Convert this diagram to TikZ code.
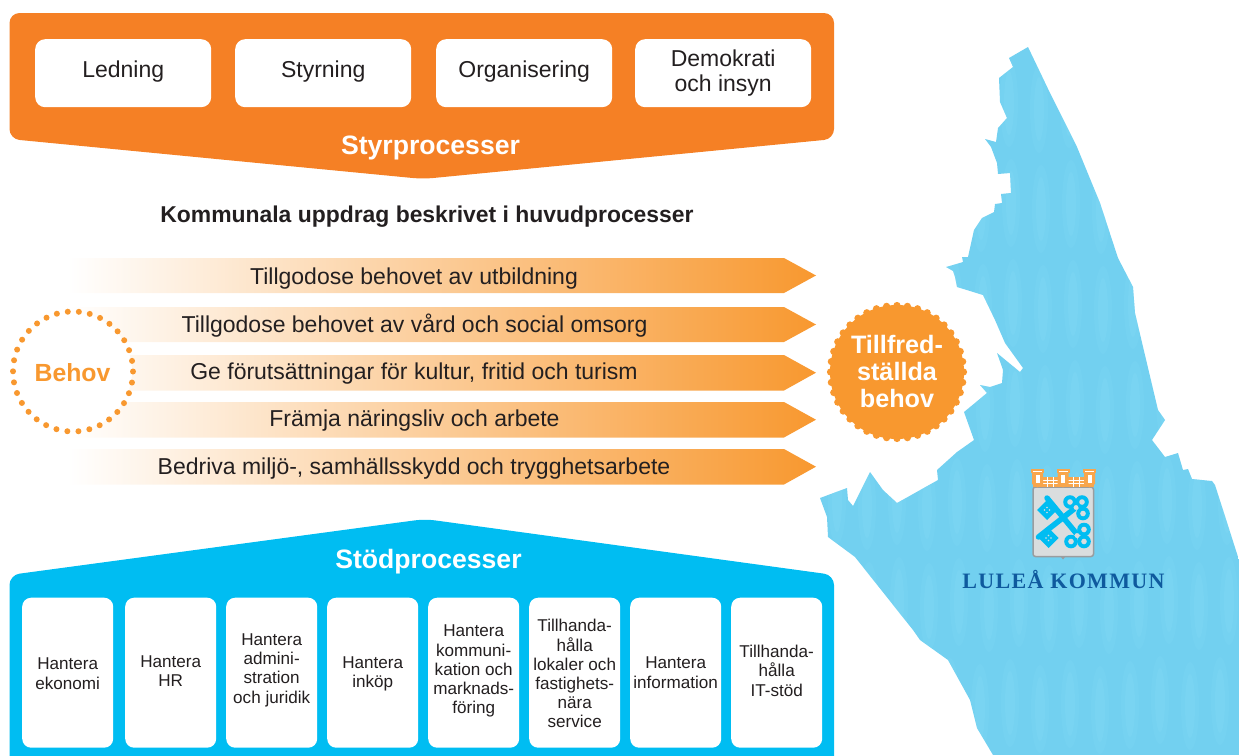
\documentclass[tikz,border=0pt]{standalone}
\usepackage{fontspec}
\setmainfont{Liberation Sans}
\newfontfamily\kommunfont[LetterSpace=6]{Liberation Serif}
\definecolor{styr}{HTML}{F58025}
\definecolor{stod}{HTML}{00BDF2}
\definecolor{pil}{HTML}{F8982F}
\definecolor{karta}{HTML}{72D0F0}
\definecolor{kartaljus}{HTML}{8ADDF7}
\definecolor{textgra}{HTML}{231F20}
\definecolor{kommunbla}{HTML}{0F5A9E}
\definecolor{vapen}{HTML}{DADDDE}
\definecolor{vapenram}{HTML}{9A9D9F}
\definecolor{krona}{HTML}{F8A64C}
\tikzset{
  topbox/.style={fill=white,rounded corners=10pt,inner sep=0pt,minimum width=176pt,minimum height=68pt,anchor=north west},
  toptext/.style={align=center,text=textgra,font=\fontsize{23}{25}\selectfont,inner sep=0pt},
  supbox/.style={fill=white,rounded corners=9pt,inner sep=0pt,minimum width=91pt,minimum height=150pt,anchor=north west},
  suptext/.style={align=center,text=textgra,font=\fontsize{17.1}{19.2}\selectfont,inner sep=0pt},
  arrowtext/.style={text=textgra,font=\fontsize{23}{26}\selectfont,inner sep=0pt,anchor=base},
  paneltitle/.style={text=white,font=\bfseries\fontsize{26.6}{30}\selectfont,inner sep=0pt,anchor=base},
  pilform/.style={left color=white,right color=pil,shading angle=90},
  keycol/.style={fill=stod,draw=none},
}
\begin{document}
\begin{tikzpicture}[x=1pt,y=-1pt]
\useasboundingbox (0,0) rectangle (1239,755);
% Map
\begin{scope}
\path[clip] (1028,47) -- (1009,58) -- (1013,67) -- (999,78) -- (1000,102) -- (1007,118) -- (998,128) -- (996,142)
 -- (985,139) -- (991,147) -- (997,163) -- (998,174) -- (1010,173) -- (1011,193) -- (1001,194) -- (1002,203)
 -- (995,204) -- (994,212) -- (982,218) -- (974,230) -- (968,257) -- (962,257) -- (963,262) -- (953,265) -- (946,267)
 -- (953,271) -- (955,277) -- (957,287) -- (983,295) -- (995,320) -- (1005,343) -- (1023,368) -- (1020,372)
 -- (997,353) -- (1003,370) -- (1002,383) -- (990,387) -- (980,385) -- (987,393) -- (964,412) -- (974,440)
 -- (957,452) -- (937,470) -- (938,480) -- (897,503) -- (883,490) -- (870,472) -- (853,506) -- (848,500)
 -- (847,488) -- (820,498) -- (827,517) -- (828,537) -- (855,557) -- (913,630) -- (920,640) -- (948,660)
 -- (970,700) -- (977,728) -- (993,755) -- (1239,755) -- (1239,560) -- (1215,485) -- (1212,481) -- (1192,479)
 -- (1188,469) -- (1183,470) -- (1178,453) -- (1165,457) -- (1152,440) -- (1165,420) -- (1158,410) -- (1135,313)
 -- (1133,287) -- (1118,258) -- (1100,203) -- (1077,147) -- (1050,93) -- cycle;
\fill[karta] (800,30) rectangle (1239,755);
\foreach \rowy in {0,1,2,3,4,5,6}{
  \foreach \colx in {0,...,14}{
    \pgfmathsetmacro{\px}{820+\colx*30+mod(\rowy*13,11)}
    \pgfmathsetmacro{\py}{60+\rowy*100+mod(\colx*17,11)}
    \fill[kartaljus,opacity=.16] (\px+9,\py+40) ellipse [x radius=9,y radius=44];
    \fill[kartaljus,opacity=.2] (\px+9,\py+40) ellipse [x radius=5,y radius=32];
  }
}
\end{scope}
% Orange panel
\fill[styr,rounded corners=10pt] (9.5,13) -- (834,13) -- (834,139) -- (423,179) -- (9.5,139) -- cycle;
\node[topbox,label={[toptext,yshift=2pt]center:Ledning}] (a1) at (35,39) {};
\node[topbox,label={[toptext,yshift=2pt]center:Styrning}] (a2) at (235,39) {};
\node[topbox,label={[toptext,yshift=2pt]center:Organisering}] (a3) at (436,39) {};
\node[topbox,label={[toptext]center:{Demokrati\\och insyn}}] (a4) at (635,39) {};
\node[paneltitle] (styrt) at (430.5,154) {Styrprocesser};
\node[text=textgra,font=\bfseries\fontsize{22.9}{26}\selectfont,inner sep=0pt,anchor=base] (rubrik) at (427,222) {Kommunala uppdrag beskrivet i huvudprocesser};
% Arrows
\shade[pilform] (68,258) -- (784,258) -- (816,275.5) -- (784,293) -- (68,293) -- cycle;
\shade[pilform] (68,307) -- (784,307) -- (816,324.5) -- (784,342) -- (68,342) -- cycle;
\shade[pilform] (68,355) -- (784,355) -- (816,372.7) -- (784,390.5) -- (68,390.5) -- cycle;
\shade[pilform] (68,402) -- (784,402) -- (816,419.7) -- (784,437.5) -- (68,437.5) -- cycle;
\shade[pilform] (68,449) -- (784,449) -- (816,466.7) -- (784,484.5) -- (68,484.5) -- cycle;
\node[arrowtext] (p1) at (414,284) {Tillgodose behovet av utbildning};
\node[arrowtext] (p2) at (414.5,332) {Tillgodose behovet av vård och social omsorg};
\node[arrowtext] (p3) at (414,379) {Ge förutsättningar för kultur, fritid och turism};
\node[arrowtext] (p4) at (414.5,426) {Främja näringsliv och arbete};
\node[arrowtext] (p5) at (414,474) {Bedriva miljö-, samhällsskydd och trygghetsarbete};
% Behov
\fill[white] (73,371.5) circle (59);
\foreach \a in {0,10.6,...,359}{
  \fill[pil] (73,371.5) ++(\a:60) circle (3);
}
\node[text=pil,font=\bfseries\fontsize{24.8}{26}\selectfont,inner sep=0pt,anchor=base] (behov) at (72.5,381) {Behov};
% Seal
\fill[pil] (897,372) circle (67);
\foreach \a in {0,9,...,359}{
  \fill[pil] (897,372) ++(\a:66.5) circle (3.6);
}
\node[text=white,font=\bfseries\fontsize{25.2}{27}\selectfont,align=center,inner sep=0pt] (tf) at (897,371.5) {Tillfred-\\ställda\\behov};
% Blue panel
\fill[stod,rounded corners=10pt] (9.5,800) -- (9.5,575) -- (425,519) -- (834,575) -- (834,800) -- cycle;
\node[paneltitle] (stodt) at (428.5,568) {Stödprocesser};
\node[supbox,label={[suptext,yshift=-1pt]center:{Hantera\\ekonomi}}] (s1) at (22,597.5) {};
\node[supbox,label={[suptext,yshift=1.5pt]center:{Hantera\\HR}}] (s2) at (125,597.5) {};
\node[supbox,label={[suptext,yshift=2.5pt]center:{Hantera\\admini-\\stration\\och juridik}}] (s3) at (226,597.5) {};
\node[supbox,label={[suptext,yshift=-1pt]center:{Hantera\\inköp}}] (s4) at (327,597.5) {};
\node[supbox,label={[suptext,yshift=1.5pt]center:{Hantera\\kommuni-\\kation och\\marknads-\\föring}}] (s5) at (428,597.5) {};
\node[supbox,label={[suptext,yshift=-1pt]center:{Tillhanda-\\hålla\\lokaler och\\fastighets-\\nära\\service}}] (s6) at (529,597.5) {};
\node[supbox,label={[suptext]center:{Hantera\\information}}] (s7) at (630,597.5) {};
\node[supbox,label={[suptext,yshift=2pt]center:{Tillhanda-\\hålla\\IT-stöd}}] (s8) at (731,597.5) {};
% Coat of arms
\filldraw[fill=vapen,draw=vapenram,line width=1.5pt,rounded corners=2.5pt] (1033,487) -- (1093.5,487) -- (1093.5,556.5) -- (1063,556.5) -- (1033,556.5) -- cycle;
\fill[vapenram] (1061,557) -- (1065,557) -- (1063,559.5) -- cycle;
\fill[krona] (1033,476.5) rectangle (1094,487);
\foreach \yy in {480,483.5}{\draw[white,line width=.5pt] (1033,\yy) -- (1094,\yy);}
\foreach \xx in {1047,1053,1073,1079}{\draw[white,line width=.5pt] (\xx,476.5) -- (\xx,487);}
\foreach \tx in {1037.5,1063,1089.5}{
  \fill[krona] (\tx-6.5,469) rectangle (\tx+6.5,473);
  \fill[krona] (\tx-5.5,472) -- (\tx+5.5,472) -- (\tx+5.5,484) -- (\tx,487.5) -- (\tx-5.5,484) -- cycle;
  \fill[white] (\tx-2,474.5) rectangle (\tx+2,483);
  \fill[white] (\tx-4.5,470.5) rectangle (\tx+4.5,471.3);
}
% keys
\foreach \tipx/\tipy/\endx/\endy in {1047/498/1076/533,1038.5/537/1074/509}{
  \draw[stod,line width=5.5pt,line cap=round] (\tipx,\tipy) -- (\endx,\endy);
}
\foreach \bx/\by in {1047/510,1048.5/538}{
  \fill[keycol] (\bx,\by) ++(-10,0) -- ++(10,-10) -- ++(10,10) -- ++(-10,10) -- cycle;
  \foreach \dx/\dy in {-2.5/0,2.5/0,0/-2.5,0/2.5}{\fill[vapen] (\bx+\dx,\by+\dy) circle (.8);}
}
\foreach \bx/\by/\ax/\ay/\bbx/\bby/\ccx/\ccy in {1076/507.5/-6/-5.5/6/-5.5/7/6, 1077/535.5/7/-6/7/6/-6/6}{
  \fill[stod] (\bx+\ax,\by+\ay) circle (6.8);
  \fill[stod] (\bx+\bbx,\by+\bby) circle (6.8);
  \fill[stod] (\bx+\ccx,\by+\ccy) circle (6.8);
  \fill[vapen] (\bx+\ax,\by+\ay) circle (2.8);
  \fill[vapen] (\bx+\bbx,\by+\bby) circle (2.8);
  \fill[vapen] (\bx+\ccx,\by+\ccy) circle (2.8);
  \fill[vapen] (\bx,\by) circle (2.4);
}
\node[text=kommunbla,font=\kommunfont\bfseries\fontsize{22}{24}\selectfont,inner sep=0pt,anchor=base] (kommun) at (1063.5,588) {LULEÅ KOMMUN};
\end{tikzpicture}
\end{document}
